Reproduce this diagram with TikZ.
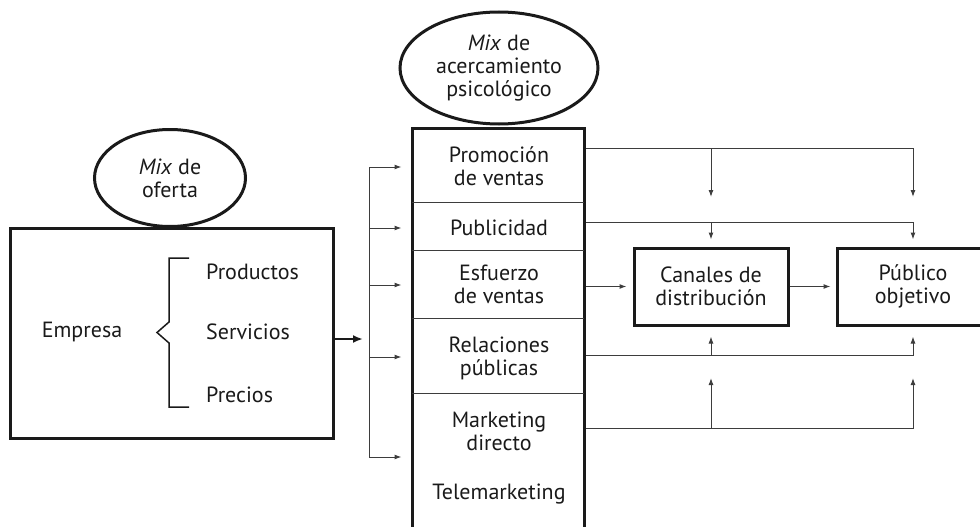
\documentclass[tikz,border=0pt]{standalone}
\usepackage{fontspec}
\setmainfont{PT Sans}
\usetikzlibrary{arrows.meta,calc,positioning,shapes.geometric}
\definecolor{Ink}{HTML}{1A1A1A}
\definecolor{Rule}{HTML}{3D3D3D}

\begin{document}
\begin{tikzpicture}[
  x=1pt,y=-1pt,
  >={Latex[length=7pt,width=5pt]},
  font=\fontsize{22}{23}\selectfont,
  heavy/.style={draw=Ink,line width=3pt},
  bubble/.style={heavy,ellipse,align=center,inner sep=0pt,text=Ink},
  frame/.style={heavy,rectangle,align=center,inner sep=0pt,text=Ink},
  word/.style={align=center,inner sep=0pt,text=Ink},
  wire/.style={draw=Rule,line width=1pt},
  feed/.style={->,draw=Rule,line width=1pt}
]
  \useasboundingbox (0,0) rectangle (980,527);
  % left side: offer mix
  \node[bubble,minimum width=151pt,minimum height=97pt] (oferta) at (170,178) {\textit{Mix} de\\oferta};
  \node[frame,minimum width=323pt,minimum height=210pt] (empresa) at (171.5,333) {};
  \node[word] (firma) at (82,332) {Empresa};
  \node[word,anchor=west] (productos) at (206,272) {Productos};
  \node[word,anchor=west] (servicios) at (206,332) {Servicios};
  \node[word,anchor=west] (precios) at (206,395) {Precios};
  \draw[draw=Ink,line width=1.5pt] (189,258) -| (169,322) -- (157,332.5) -- (169,343) |- (189,407);
  % middle: psychological mix
  \node[bubble,minimum width=198pt,minimum height=112pt] (acerc) at (499,68) {\textit{Mix} de\\acercamiento\\psicológico};
  \node[frame,minimum width=172pt,minimum height=420pt,anchor=north] (mixbox) at (498,127) {};
  \foreach \y in {202,250,318,393}
    \draw[wire,shorten <=1.5pt,shorten >=1.5pt] (mixbox.west |- 0,\y) -- (mixbox.east |- 0,\y);
  \node[word] (promo) at (499,166) {Promoción\\de ventas};
  \node[word] (publi) at (499,228) {Publicidad};
  \node[word] (esfuerzo) at (499,284) {Esfuerzo\\de ventas};
  \node[word] (relac) at (499,358) {Relaciones\\públicas};
  \node[word] (directo) at (499,431) {Marketing\\directo};
  \node[word] (tele) at (499,494) {Telemarketing};
  % fork into the mix
  \coordinate (split) at (363,339);
  \coordinate (forktop) at (369,167);
  \coordinate (forkbot) at (369,457);
  \draw[->,draw=Ink,line width=2pt,>={Latex[length=10pt,width=8pt]}] (empresa.east |- split) -- (split);
  \draw[wire] (forktop) -- (forkbot);
  \foreach \y in {167,228,285,357,457}
    \draw[feed,shorten >=9pt] (forktop |- 0,\y) -- (mixbox.west |- 0,\y);
  % right side
  \node[frame,minimum width=154pt,minimum height=77pt] (canales) at (711,286.5) {Canales de\\distribución};
  \node[frame,minimum width=152pt,minimum height=77pt] (publico) at (913,286.5) {Público\\objetivo};
  \coordinate (dropA) at (711,197);
  \coordinate (dropB) at (913,197);
  \coordinate (riseA) at (711,378);
  \coordinate (riseB) at (913,378);
  \draw[feed] (mixbox.east |- 0,148) -| (dropB);
  \draw[feed] (canales.north |- 0,148) -- (dropA);
  \draw[feed,shorten >=7pt] (mixbox.east |- 0,222) -| (publico.north);
  \draw[feed,shorten >=7pt] (canales.north |- 0,222) -- (canales.north);
  \draw[feed,shorten >=6pt] (mixbox.east |- canales.west) -- (canales.west);
  \draw[feed,shorten >=5pt] (canales) -- (publico);
  \draw[feed,shorten >=10pt] (mixbox.east |- 0,355) -| (publico.south);
  \draw[feed,shorten >=10pt] (canales.south |- 0,355) -- (canales.south);
  \draw[feed] (mixbox.east |- 0,428) -| (riseB);
  \draw[feed] (canales.south |- 0,428) -- (riseA);
\end{tikzpicture}
\end{document}
